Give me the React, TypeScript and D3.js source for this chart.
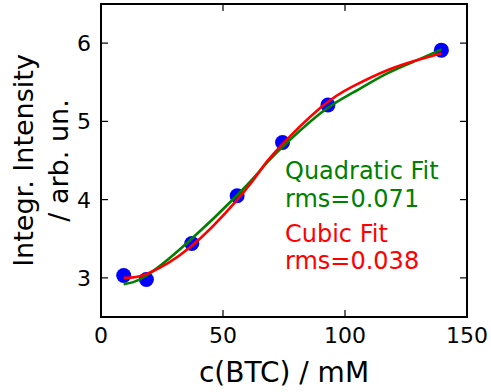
import React from "react";
import * as d3 from "d3";

const dataX = [9.3, 18.6, 37.2, 55.8, 74.4, 93.0, 139.5];
const dataY = [3.03, 2.98, 3.44, 4.05, 4.73, 5.21, 5.91];

const fitX = [9.3, 18.7, 36.5, 55.6, 65.2, 72, 89.8, 103.4, 117.1, 129.4, 139.5];
const quadY = [2.92, 3.03, 3.48, 4.05, 4.37, 4.6, 5.1, 5.37, 5.61, 5.78, 5.92];
const cubicY = [3.0, 3.05, 3.39, 3.99, 4.37, 4.63, 5.17, 5.45, 5.65, 5.78, 5.87];

const xTicks = [0, 50, 100, 150];
const yTicks = [3, 4, 5, 6];

const W = 491;
const H = 392;
const L = 101, R = 467, T = 4, B = 317;
const FONT = "DejaVu Sans, sans-serif";

export default function App() {
  const x = d3.scaleLinear().domain([0, 150]).range([L, R]);
  const y = d3.scaleLinear().domain([2.5, 6.5]).range([B, T]);
  const line = d3
    .line<[number, number]>()
    .x((d) => x(d[0]))
    .y((d) => y(d[1]))
    .curve(d3.curveNatural);
  const quadPath = line(fitX.map((v, i) => [v, quadY[i]]) as [number, number][]) || "";
  const cubicPath = line(fitX.map((v, i) => [v, cubicY[i]]) as [number, number][]) || "";
  const tl = 7;
  return (
    <svg width={W} height={H} style={{ position: "absolute", left: 0, top: 0, background: "#fff" }} fontFamily={FONT}>
      <rect x={0} y={0} width={W} height={H} fill="#fff" />
      <defs>
        <clipPath id="plot">
          <rect x={L} y={T} width={R - L} height={B - T} />
        </clipPath>
      </defs>
      {xTicks.map((t) => (
        <g key={"x" + t}>
          <line x1={x(t)} x2={x(t)} y1={B} y2={B - tl} stroke="#000" strokeWidth={1.2} />
          <line x1={x(t)} x2={x(t)} y1={T} y2={T + tl} stroke="#000" strokeWidth={1.2} />
          <text x={x(t)} y={B + 26} textAnchor="middle" fontSize={22} fill="#000">
            {t}
          </text>
        </g>
      ))}
      {yTicks.map((t) => (
        <g key={"y" + t}>
          <line x1={L} x2={L + tl} y1={y(t)} y2={y(t)} stroke="#000" strokeWidth={1.2} />
          <line x1={R} x2={R - tl} y1={y(t)} y2={y(t)} stroke="#000" strokeWidth={1.2} />
          <text x={L - 10} y={y(t) + 8} textAnchor="end" fontSize={22} fill="#000">
            {t}
          </text>
        </g>
      ))}
      <g clipPath="url(#plot)">
        {dataX.map((v, i) => (
          <circle key={i} cx={x(v)} cy={y(dataY[i])} r={7.5} fill="#0000ff" />
        ))}
        <path d={quadPath} fill="none" stroke="#008000" strokeWidth={2.6} />
        <path d={cubicPath} fill="none" stroke="#ff0000" strokeWidth={2.6} />
      </g>
      <rect x={L} y={T} width={R - L} height={B - T} fill="none" stroke="#000" strokeWidth={2} />
      <text x={285} y={179} fontSize={24} fill="#008000">Quadratic Fit</text>
      <text x={285} y={207} fontSize={24} fill="#008000">rms=0.071</text>
      <text x={285} y={242} fontSize={24} fill="#ff0000">Cubic Fit</text>
      <text x={285} y={269} fontSize={24} fill="#ff0000">rms=0.038</text>
      <text x={(L + R) / 2} y={382} textAnchor="middle" fontSize={28} fill="#000">
        c(BTC) / mM
      </text>
      <g transform={`translate(33, ${(T + B) / 2}) rotate(-90)`}>
        <text x={0} y={0} textAnchor="middle" fontSize={27} fill="#000">
          Integr. Intensity
        </text>
        <text x={0} y={35} textAnchor="middle" fontSize={27} fill="#000">
          / arb. un.
        </text>
      </g>
    </svg>
  );
}
